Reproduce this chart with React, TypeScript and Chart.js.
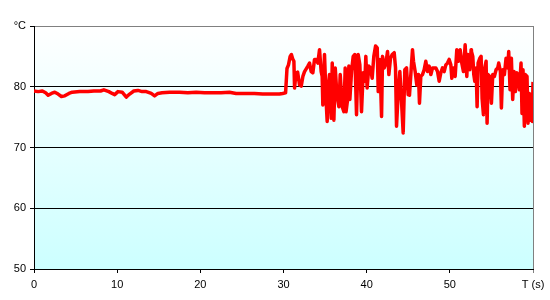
import React, { useEffect, useRef } from "react";
import { Chart, registerables } from "chart.js";

Chart.register(...registerables);

const xTicks = [0, 10, 20, 30, 40, 50, 60];
const yTicks = [50, 60, 70, 80, 90];
const xAxisTitle = "T (s)";
const yAxisTitle = "°C";

const steadyTimes = [0, 0.5, 1.0, 1.4, 1.7, 2.1, 2.5, 2.9, 3.3, 3.7, 4.2, 4.6, 5.5, 6.5, 7.2, 8.0, 8.4, 9.0, 9.4, 9.7, 10.1, 10.6, 11.1, 11.5, 12.0, 12.5, 13.0, 13.5, 14.1, 14.5, 14.9, 15.4, 16.3, 17.5, 18.5, 19.5, 20.5, 21.5, 22.5, 23.5, 24.3, 25.5, 26.5, 27.5, 28.5, 29.5, 29.9, 30.25];
const steadyTemps = [79.3, 79.2, 79.3, 79.0, 78.6, 78.9, 79.1, 78.8, 78.4, 78.5, 78.9, 79.1, 79.2, 79.2, 79.3, 79.3, 79.5, 79.2, 78.9, 78.7, 79.2, 79.1, 78.3, 78.8, 79.3, 79.4, 79.2, 79.2, 78.9, 78.5, 78.9, 79.0, 79.1, 79.1, 79.0, 79.1, 79.0, 79.0, 79.0, 79.1, 78.9, 78.9, 78.9, 78.8, 78.8, 78.8, 78.9, 79.0];

const noisyTimes = [30.42, 30.6, 30.8, 30.95, 31.1, 31.25, 31.33, 31.5, 31.7, 31.93, 32.13, 32.33, 32.53, 32.93, 33.13, 33.33, 33.53, 33.73, 33.93, 34.13, 34.33, 34.53, 34.65, 34.73, 34.93, 35.13, 35.25, 35.41, 35.53, 35.74, 35.86, 36.06, 36.22, 36.42, 36.66, 36.82, 37.06, 37.26, 37.42, 37.52, 37.70, 37.86, 37.98, 38.18, 38.38, 38.58, 38.78, 38.98, 39.18, 39.38, 39.58, 39.78, 39.90, 40.06, 40.26, 40.46, 40.66, 40.86, 41.07, 41.27, 41.39, 41.59, 41.79, 41.91, 42.11, 42.31, 42.51, 42.67, 42.87, 43.07, 43.31, 43.47, 43.59, 43.79, 43.99, 44.19, 44.39, 44.59, 44.79, 44.99, 45.15, 45.31, 45.51, 45.63, 45.83, 46.03, 46.23, 46.35, 46.51, 46.71, 46.91, 47.11, 47.31, 47.51, 47.72, 47.92, 48.12, 48.32, 48.52, 48.72, 48.92, 49.12, 49.32, 49.52, 49.72, 49.92, 50.12, 50.24, 50.44, 50.64, 50.84, 51.04, 51.24, 51.44, 51.64, 51.84, 52.04, 52.16, 52.36, 52.56, 52.40, 52.60, 52.76, 52.88, 53.00, 53.16, 53.28, 53.40, 53.60, 53.76, 53.88, 54.04, 54.20, 54.36, 54.48, 54.60, 54.80, 55.00, 55.16, 55.36, 55.56, 55.76, 55.88, 56.08, 56.20, 56.36, 56.56, 56.76, 56.96, 57.08, 57.24, 57.40, 57.56, 57.72, 57.88, 58.04, 58.20, 58.36, 58.56, 58.68, 58.80, 58.96, 59.08, 59.28, 59.40, 59.56, 59.68, 59.80, 59.92, 60.0];
const noisyTemps = [83.0, 83.6, 85.0, 85.3, 84.6, 84.2, 79.8, 82.2, 82.4, 80.3, 80.1, 81.7, 82.5, 83.4, 83.9, 82.5, 82.3, 84.5, 84.5, 83.9, 86.1, 82.5, 81.7, 77.0, 85.3, 77.6, 74.3, 80.3, 82.0, 74.8, 83.9, 74.5, 83.1, 78.7, 76.7, 82.0, 76.7, 75.9, 83.1, 75.9, 77.8, 83.4, 77.9, 82.5, 85.0, 85.3, 75.4, 85.3, 83.6, 75.9, 82.3, 80.9, 85.0, 79.8, 83.4, 83.1, 81.4, 85.0, 86.7, 86.4, 79.2, 84.5, 75.1, 85.0, 83.1, 83.9, 85.8, 82.0, 84.7, 85.3, 85.6, 83.1, 73.5, 78.9, 82.5, 77.6, 72.4, 82.8, 83.1, 78.7, 78.6, 82.0, 86.1, 84.2, 82.5, 80.3, 82.0, 77.3, 81.7, 82.0, 82.8, 84.2, 82.5, 83.4, 82.0, 83.1, 83.1, 83.1, 82.5, 80.9, 82.3, 83.1, 82.5, 83.6, 83.9, 84.5, 83.6, 81.4, 83.1, 81.7, 86.1, 84.2, 86.1, 83.9, 82.5, 86.9, 81.7, 85.3, 84.7, 86.1, 82.8, 85.8, 85.0, 82.0, 80.9, 83.1, 76.7, 83.9, 84.7, 85.0, 78.1, 75.4, 83.1, 84.2, 74.0, 82.0, 81.7, 77.3, 82.0, 81.7, 82.8, 83.1, 83.9, 82.5, 76.5, 82.8, 82.0, 84.7, 83.1, 85.8, 79.5, 84.7, 77.9, 82.5, 79.2, 82.3, 82.0, 79.5, 83.9, 75.6, 82.8, 73.5, 82.0, 81.7, 74.0, 78.9, 74.5, 78.7, 74.3, 80.8];

export default function App() {
  const canvasRef = useRef<HTMLCanvasElement | null>(null);

  useEffect(() => {
    if (!canvasRef.current) return;
    const times = [...steadyTimes, ...noisyTimes];
    const temps = [...steadyTemps, ...noisyTemps];
    const points = times
      .map((t, i) => ({ x: t, y: temps[i] }))
      .sort((a, b) => a.x - b.x);

    const bgPlugin = {
      id: "bgGradient",
      beforeDraw(chart: any) {
        const { ctx, chartArea } = chart;
        if (!chartArea) return;
        const g = ctx.createLinearGradient(0, chartArea.top, 0, chartArea.bottom);
        g.addColorStop(0, "#ffffff");
        g.addColorStop(1, "#ccffff");
        ctx.save();
        ctx.fillStyle = g;
        ctx.fillRect(chartArea.left, chartArea.top, chartArea.right - chartArea.left, chartArea.bottom - chartArea.top);
        ctx.restore();
      },
    };

    const font = { family: "'Liberation Sans', Arial, sans-serif", size: 11 };

    const chart = new Chart(canvasRef.current, {
      type: "line",
      data: {
        datasets: [
          {
            data: points,
            borderColor: "#ff0000",
            borderWidth: 3.5,
            pointRadius: 0,
            tension: 0,
            borderJoinStyle: "round",
          },
        ],
      },
      options: {
        animation: false,
        responsive: true,
        maintainAspectRatio: false,
        layout: { padding: { top: 26, right: 17, left: 0, bottom: 0 } },
        plugins: { legend: { display: false }, tooltip: { enabled: false } },
        scales: {
          x: {
            type: "linear",
            min: xTicks[0],
            max: xTicks[xTicks.length - 1],
            afterBuildTicks: (s: any) => {
              s.ticks = xTicks.map((v) => ({ value: v }));
            },
            afterFit: (s: any) => {
              s.height = 31;
            },
            ticks: {
              font,
              color: "#000",
              padding: 5,
              maxRotation: 0,
              autoSkip: false,
              callback: (v: any) => (v === 60 ? xAxisTitle : String(v)),
            },
            grid: {
              drawOnChartArea: true,
              tickLength: 4,
              color: (c: any) => (c.tick && c.tick.value === 60 ? "#808080" : "rgba(0,0,0,0)"),
              tickColor: (c: any) => (c.tick && c.tick.value === 60 ? "#808080" : "#000"),
            },
            border: { color: "#000", width: 1 },
          },
          y: {
            type: "linear",
            min: yTicks[0],
            max: yTicks[yTicks.length - 1],
            afterBuildTicks: (s: any) => {
              s.ticks = yTicks.map((v) => ({ value: v }));
            },
            afterFit: (s: any) => {
              s.width = 34;
            },
            ticks: {
              font,
              color: "#000",
              padding: 4,
              autoSkip: false,
              callback: (v: any) => (v === 90 ? yAxisTitle : String(v)),
            },
            grid: {
              tickLength: 4,
              color: (c: any) => {
                const v = c.tick ? c.tick.value : null;
                if (v === 90) return "#808080";
                if (v === 50) return "rgba(0,0,0,0)";
                return "#000";
              },
              tickColor: "#000",
            },
            border: { color: "#000", width: 1 },
          },
        },
      },
      plugins: [bgPlugin],
    } as any);

    return () => chart.destroy();
  }, []);

  return (
    <div style={{ position: "absolute", left: 0, top: 0, width: 550, height: 300, background: "#fff" }}>
      <canvas ref={canvasRef} />
    </div>
  );
}
